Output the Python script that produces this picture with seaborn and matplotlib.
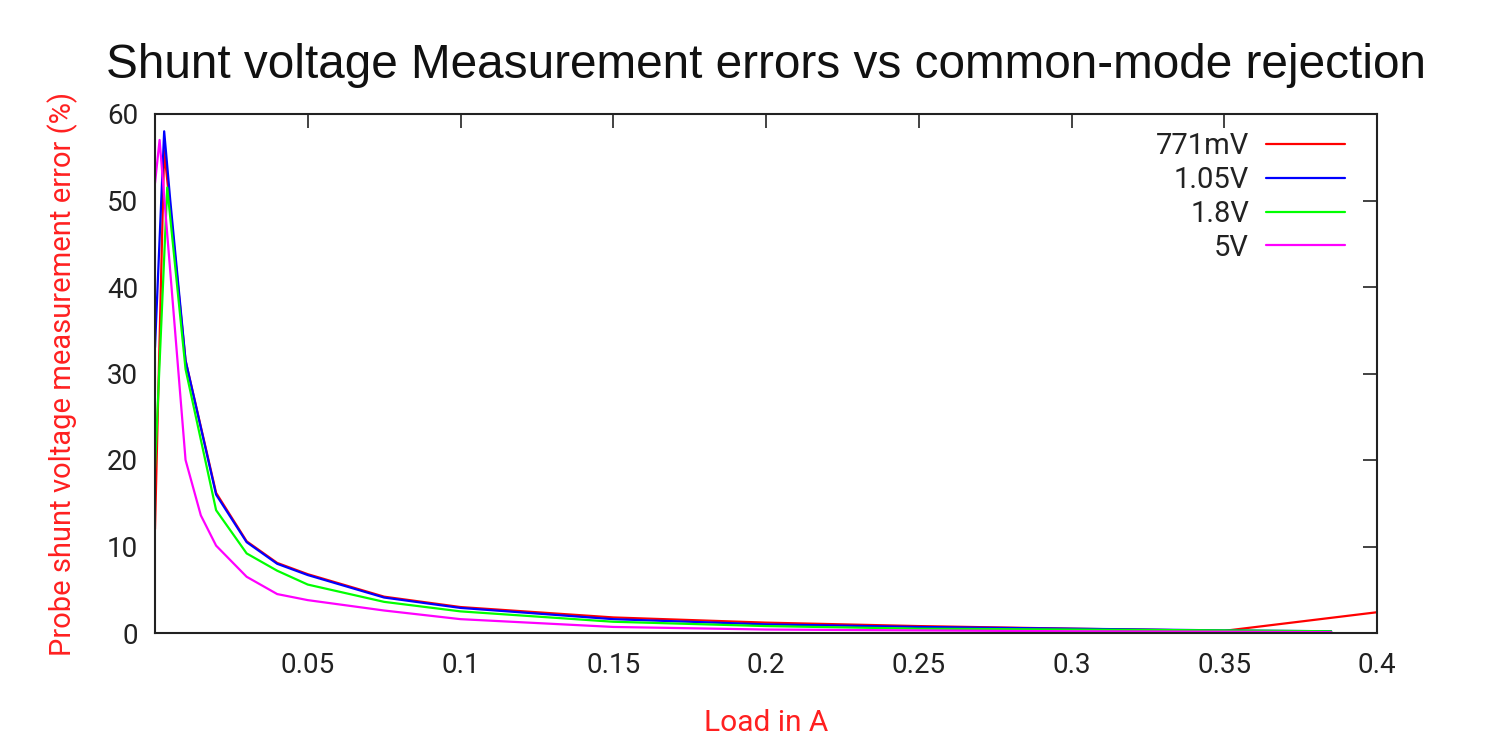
#!/usr/bin/env python3
"""Shunt voltage measurement error vs load for several common-mode voltages."""

import matplotlib
matplotlib.use("Agg")
import matplotlib.pyplot as plt
import pandas as pd
import seaborn as sns

# load current (A) and measured error (%) per common-mode voltage
load_771mv = [0, 0.003, 0.005, 0.01, 0.02, 0.03, 0.04, 0.05, 0.075, 0.1,
              0.15, 0.2, 0.25, 0.3, 0.35, 0.4]
err_771mv = [12, 55.8, 49, 31.5, 16.2, 10.6, 8.1, 6.8, 4.2, 3.0,
             1.8, 1.2, 0.8, 0.5, 0.25, 2.4]

load_105v = [0, 0.003, 0.005, 0.01, 0.02, 0.03, 0.04, 0.05, 0.075, 0.1,
             0.15, 0.2, 0.25, 0.3, 0.35, 0.385]
err_105v = [33, 58, 50, 31.5, 16, 10.5, 8.0, 6.7, 4.1, 2.9,
            1.6, 1.0, 0.7, 0.5, 0.3, 0.2]

load_18v = [0, 0.004, 0.01, 0.02, 0.03, 0.04, 0.05, 0.075, 0.1,
            0.15, 0.2, 0.25, 0.3, 0.35, 0.385]
err_18v = [19, 51.5, 30.5, 14.2, 9.2, 7.2, 5.6, 3.6, 2.5,
           1.3, 0.8, 0.5, 0.4, 0.3, 0.2]

load_5v = [0, 0.0015, 0.01, 0.015, 0.02, 0.03, 0.04, 0.05, 0.075, 0.1,
           0.15, 0.2, 0.25, 0.3, 0.35, 0.385]
err_5v = [52, 57, 20, 13.6, 10.1, 6.5, 4.5, 3.8, 2.6, 1.6,
          0.7, 0.4, 0.3, 0.2, 0.15, 0.1]

SERIES = ["771mV", "1.05V", "1.8V", "5V"]
COLORES = {"771mV": "#ff0000", "1.05V": "#0000ff", "1.8V": "#00ff00", "5V": "#ff00ff"}

X_TICKS = [0.05, 0.1, 0.15, 0.2, 0.25, 0.3, 0.35, 0.4]
X_TICK_LABELS = ["0.05", "0.1", "0.15", "0.2", "0.25", "0.3", "0.35", "0.4"]
Y_TICKS = [0, 10, 20, 30, 40, 50, 60]


def armar_tabla():
    partes = []
    for nombre, xs, ys in zip(SERIES,
                              [load_771mv, load_105v, load_18v, load_5v],
                              [err_771mv, err_105v, err_18v, err_5v]):
        partes.append(pd.DataFrame({"load": xs, "error": ys, "serie": nombre}))
    return pd.concat(partes, ignore_index=True)


def main():
    sns.set_style("white")
    plt.rcParams["font.family"] = ["Roboto", "DejaVu Sans"]

    df = armar_tabla()

    fig = plt.figure(figsize=(15.04, 7.37), dpi=100)
    ax = fig.add_axes([155 / 1504, 1 - 633 / 737, 1222 / 1504, 519 / 737])

    sns.lineplot(data=df, x="load", y="error", hue="serie", hue_order=SERIES,
                 palette=COLORES, sort=False, estimator=None, linewidth=1.6,
                 ax=ax)

    ax.set_xlim(0, 0.4)
    ax.set_ylim(0, 60)
    ax.set_xticks(X_TICKS)
    ax.set_xticklabels(X_TICK_LABELS)
    ax.set_yticks(Y_TICKS)
    ax.tick_params(direction="in", length=10, width=1.2, top=True, right=True,
                   labelsize=20, colors="#222222")
    ax.tick_params(axis="x", pad=14)
    ax.tick_params(axis="y", pad=12)
    for lado in ax.spines.values():
        lado.set_color("#222222")
        lado.set_linewidth(1.5)

    ax.set_title("Shunt voltage Measurement errors vs common-mode rejection",
                 fontsize=34.4, family=["Liberation Sans", "DejaVu Sans"],
                 color="#111111", pad=26)
    ax.set_xlabel("Load in A", color="#ff2020", fontsize=21.5, labelpad=21)
    ax.set_ylabel("Probe shunt voltage measurement error (%)", color="#ff2020",
                  fontsize=21, labelpad=21)

    # markerfirst=False deja el texto a la izquierda y alineado a la derecha
    leg = ax.legend(loc="upper right", bbox_to_anchor=(0.974, 0.965),
                    frameon=False, markerfirst=False, fontsize=21,
                    handlelength=2.7, handletextpad=0.6, labelspacing=0.2,
                    borderaxespad=0, borderpad=0)
    for linea in leg.get_lines():
        linea.set_linewidth(1.6)
    for t in leg.get_texts():
        t.set_color("#222222")

    fig.savefig("out.png", dpi=100)
    plt.close(fig)


if __name__ == "__main__":
    main()
